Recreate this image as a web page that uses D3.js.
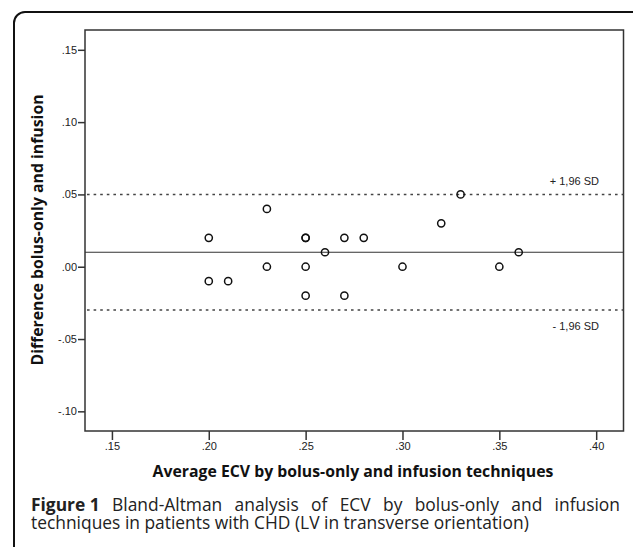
<!DOCTYPE html>
<meta charset="utf-8">
<style>
body { margin: 0; background: #fff; }
svg { display: block; }
.tick text { font-family: "Liberation Sans", Arial, sans-serif; font-size: 11px; fill: #222; }
.sd-label { font-family: "Liberation Sans", Arial, sans-serif; font-size: 11px; fill: #222; }
.axis-title { font-family: "Open Sans", sans-serif; font-weight: bold; font-size: 15.8px; fill: #111; }
.caption { font-family: "Open Sans", sans-serif; font-size: 17.4px; fill: #222; }
</style>
<svg></svg>
<script src="https://d3js.org/d3.v7.min.js"></script>
<script>

// data: average ECV vs difference (bolus-only - infusion)
var avgECV = [0.20, 0.20, 0.21, 0.23, 0.23, 0.25, 0.25, 0.25, 0.25, 0.26, 0.27, 0.27, 0.28, 0.30, 0.32, 0.33, 0.35, 0.36];
var diffECV = [0.02, -0.01, -0.01, 0.04, 0.00, 0.02, 0.02, 0.00, -0.02, 0.01, 0.02, -0.02, 0.02, 0.00, 0.03, 0.05, 0.00, 0.01];
var meanDiff = 0.01;
var upperLoA = 0.05;
var lowerLoA = -0.03;
var xTicks = [0.15, 0.20, 0.25, 0.30, 0.35, 0.40];
var yTicks = [-0.10, -0.05, 0.00, 0.05, 0.10, 0.15];

var width = 633, height = 547;
var svg = d3.select("svg").attr("width", width).attr("height", height);

// outer rounded frame (runs off the right and bottom of the picture)
svg.append("rect")
  .attr("x", 14).attr("y", 12)
  .attr("width", 640).attr("height", 560)
  .attr("rx", 11)
  .attr("fill", "none")
  .attr("stroke", "#111")
  .attr("stroke-width", 2);

var plot = { left: 85, top: 30, right: 623.5, bottom: 431 };

var x = d3.scaleLinear().domain([0.1361, 0.4141]).range([plot.left, plot.right]);
var y = d3.scaleLinear().domain([-0.1136, 0.1637]).range([plot.bottom, plot.top]);

// SPSS style: ".15", "-.05"
function fmt(d) {
  var s = d.toFixed(2);
  return s.replace("0.", ".");
}

// plot frame
svg.append("rect")
  .attr("x", plot.left).attr("y", plot.top)
  .attr("width", plot.right - plot.left).attr("height", plot.bottom - plot.top)
  .attr("fill", "none")
  .attr("stroke", "#333")
  .attr("stroke-width", 1.5);

var xAxis = svg.append("g")
  .attr("transform", "translate(0," + plot.bottom + ")")
  .call(d3.axisBottom(x).tickValues(xTicks).tickFormat(fmt).tickSize(9).tickPadding(2));
xAxis.select(".domain").remove();
xAxis.selectAll(".tick line").attr("stroke", "#333").attr("stroke-width", 1.5);

var yAxis = svg.append("g")
  .attr("transform", "translate(" + plot.left + ",0)")
  .call(d3.axisLeft(y).tickValues(yTicks).tickFormat(fmt).tickSize(7).tickPadding(1));
yAxis.select(".domain").remove();
yAxis.selectAll(".tick line").attr("stroke", "#333").attr("stroke-width", 1.5);

// mean and limits of agreement
svg.append("line")
  .attr("x1", plot.left).attr("x2", plot.right)
  .attr("y1", y(meanDiff)).attr("y2", y(meanDiff))
  .attr("stroke", "#333").attr("stroke-width", 1.2);

[upperLoA, lowerLoA].forEach(function(v) {
  svg.append("line")
    .attr("x1", plot.left + 2).attr("x2", plot.right)
    .attr("y1", y(v)).attr("y2", y(v))
    .attr("stroke", "#444").attr("stroke-width", 1.5)
    .attr("stroke-dasharray", "2.6,4");
});

svg.append("text").attr("class", "sd-label")
  .attr("x", 599).attr("y", y(upperLoA) - 9)
  .attr("text-anchor", "end")
  .text("+ 1,96 SD");

svg.append("text").attr("class", "sd-label")
  .attr("x", 599).attr("y", y(lowerLoA) + 20)
  .attr("text-anchor", "end")
  .text("- 1,96 SD");

// points
svg.append("g")
  .selectAll("circle")
  .data(avgECV)
  .enter().append("circle")
    .attr("cx", function(d) { return x(d); })
    .attr("cy", function(d, i) { return y(diffECV[i]); })
    .attr("r", 3.6)
    .attr("fill", "none")
    .attr("stroke", "#111")
    .attr("stroke-width", 1.5);

// axis titles
svg.append("text").attr("class", "axis-title")
  .attr("x", 353).attr("y", 477)
  .attr("text-anchor", "middle")
  .text("Average ECV by bolus-only and infusion techniques");

svg.append("text").attr("class", "axis-title")
  .attr("transform", "translate(43,230) rotate(-90)")
  .attr("text-anchor", "middle")
  .text("Difference bolus-only and infusion");

// caption, first line justified between x=31 and x=620
var capLeft = 31, capRight = 620;
var figLabel = svg.append("text").attr("class", "caption")
  .attr("x", capLeft).attr("y", 511)
  .attr("font-weight", "bold").attr("fill", "#111")
  .text("Figure 1");
var figW = figLabel.node().getComputedTextLength();

var restStr = "Bland-Altman analysis of ECV by bolus-only and infusion";
var rest = svg.append("text").attr("class", "caption")
  .attr("y", 511)
  .text(restStr);
var restW = rest.node().getComputedTextLength();
rest.text(restStr.replace(/ /g, ""));
var restNoSp = rest.node().getComputedTextLength();
rest.text(restStr);
var nIn = restStr.split(" ").length - 1;
var spW = (restW - restNoSp) / nIn;
var gap = (capRight - capLeft - figW - restNoSp) / (nIn + 1);
rest.attr("x", capLeft + figW + gap)
  .attr("word-spacing", gap - spW);

svg.append("text").attr("class", "caption")
  .attr("x", capLeft).attr("y", 529)
  .text("techniques in patients with CHD (LV in transverse orientation)");

</script>
